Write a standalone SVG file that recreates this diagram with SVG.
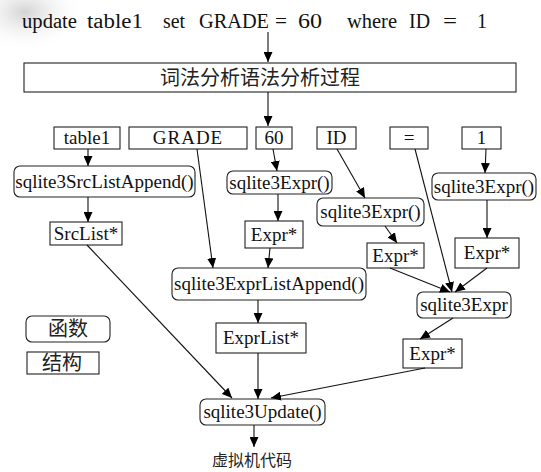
<svg xmlns="http://www.w3.org/2000/svg" width="541" height="472" viewBox="0 0 541 472">
<style>
.bx{fill:#fff;stroke:#222;stroke-width:1.1}
.t{font-family:"Liberation Serif","Times New Roman",serif;font-size:19px;fill:#111;text-anchor:middle}
.tt{font-family:"Liberation Serif","Times New Roman",serif;font-size:20px;fill:#111}
.cj{font-family:"Noto Sans CJK SC","Noto Sans",sans-serif;fill:#222;text-anchor:middle}
.ln{stroke:#111;stroke-width:1.1;fill:none;marker-end:url(#ah)}
</style>
<defs>
<marker id="ah" markerUnits="userSpaceOnUse" markerWidth="10" markerHeight="9" refX="10" refY="4.5" orient="auto">
<path d="M0,0 L10,4.5 L0,9 z" fill="#000"/>
</marker>
<radialGradient id="wm" cx="0.5" cy="0.5" r="0.5">
<stop offset="0" stop-color="#c8c8c8" stop-opacity="0.8"/>
<stop offset="1" stop-color="#ffffff" stop-opacity="0"/>
</radialGradient>
</defs>
<rect width="541" height="472" fill="#fff"/>
<ellipse cx="25" cy="12" rx="60" ry="40" fill="url(#wm)"/>
<g id="title">
<text class="tt" x="22" y="28" textLength="55" lengthAdjust="spacingAndGlyphs">update</text>
<text class="tt" x="87" y="28" textLength="56" lengthAdjust="spacingAndGlyphs">table1</text>
<text class="tt" x="163" y="28" textLength="22" lengthAdjust="spacingAndGlyphs">set</text>
<text class="tt" x="199" y="28" textLength="70" lengthAdjust="spacingAndGlyphs">GRADE</text>
<text class="tt" x="275" y="28" textLength="12" lengthAdjust="spacingAndGlyphs">=</text>
<text class="tt" x="298" y="28" textLength="24" lengthAdjust="spacingAndGlyphs">60</text>
<text class="tt" x="347" y="28" textLength="50" lengthAdjust="spacingAndGlyphs">where</text>
<text class="tt" x="409" y="28" textLength="21" lengthAdjust="spacingAndGlyphs">ID</text>
<text class="tt" x="443" y="28" textLength="14" lengthAdjust="spacingAndGlyphs">=</text>
<text class="tt" x="477" y="28" textLength="10" lengthAdjust="spacingAndGlyphs">1</text>
</g>
<g id="parse"><rect class="bx" x="24" y="63" width="492" height="29"/><text class="cj" x="260" y="85" font-size="20">词法分析语法分析过程</text></g>
<g id="n_table1"><rect class="bx" x="54" y="127" width="66" height="22"/><text class="t" x="87" y="144">table1</text></g>
<g id="n_grade"><rect class="bx" x="129" y="127" width="118" height="22"/><text class="t" x="188" y="144" letter-spacing="1">GRADE</text></g>
<g id="n_60"><rect class="bx" x="256" y="127" width="36" height="22"/><text class="t" x="274" y="144">60</text></g>
<g id="n_id"><rect class="bx" x="317" y="127" width="39" height="22"/><text class="t" x="336.5" y="144">ID</text></g>
<g id="n_eq"><rect class="bx" x="390" y="127" width="38" height="22"/><text class="t" x="409" y="144">=</text></g>
<g id="n_1"><rect class="bx" x="462" y="127" width="39" height="22"/><text class="t" x="481.5" y="144">1</text></g>
<g id="f_srclist"><rect class="bx" x="14" y="166" width="181" height="31" rx="6"/><text class="t" x="104.5" y="188">sqlite3SrcListAppend()</text></g>
<g id="f_expr60"><rect class="bx" x="227" y="171" width="105" height="23" rx="6"/><text class="t" x="279.5" y="189">sqlite3Expr()</text></g>
<g id="f_exprid"><rect class="bx" x="317" y="198" width="107" height="28" rx="6"/><text class="t" x="370.5" y="218">sqlite3Expr()</text></g>
<g id="f_expr1"><rect class="bx" x="432" y="173" width="104" height="27" rx="6"/><text class="t" x="484" y="193">sqlite3Expr()</text></g>
<g id="s_srclist"><rect class="bx" x="50" y="222" width="72" height="23"/><text class="t" x="86" y="240">SrcList*</text></g>
<g id="s_expr60"><rect class="bx" x="245" y="221" width="58" height="27"/><text class="t" x="274" y="241">Expr*</text></g>
<g id="s_exprid"><rect class="bx" x="367" y="243" width="57" height="25"/><text class="t" x="395.5" y="262">Expr*</text></g>
<g id="s_expr1"><rect class="bx" x="455" y="238" width="64" height="30"/><text class="t" x="487" y="259">Expr*</text></g>
<g id="f_exprlist"><rect class="bx" x="172" y="268" width="194" height="32" rx="6"/><text class="t" x="269" y="290">sqlite3ExprListAppend()</text></g>
<g id="f_exprbin"><rect class="bx" x="417" y="292" width="94" height="26" rx="6"/><text class="t" x="464" y="311">sqlite3Expr</text></g>
<g id="s_exprlist"><rect class="bx" x="216" y="323" width="90" height="30"/><text class="t" x="261" y="344">ExprList*</text></g>
<g id="s_exprbin"><rect class="bx" x="403" y="339" width="59" height="29"/><text class="t" x="432.5" y="360">Expr*</text></g>
<g id="f_update"><rect class="bx" x="200" y="399" width="125" height="26" rx="6"/><text class="t" x="262.5" y="418">sqlite3Update()</text></g>
<g id="legend_func"><rect class="bx" x="26" y="316" width="84" height="26" rx="6"/><text class="cj" x="68" y="336" font-size="20">函数</text></g>
<g id="legend_struct"><rect class="bx" x="27" y="352" width="72" height="22"/><text class="cj" x="62" y="370" font-size="20">结构</text></g>
<g id="out"><text class="cj" x="252" y="466" font-size="16">虚拟机代码</text></g>
<g id="connectors">
<line class="ln" x1="268" y1="32" x2="268" y2="62"/>
<line class="ln" x1="268" y1="92" x2="268" y2="126"/>
<line class="ln" x1="88" y1="149" x2="88" y2="166"/>
<line class="ln" x1="88" y1="197" x2="88" y2="222"/>
<line class="ln" x1="87" y1="245" x2="232" y2="398"/>
<line class="ln" x1="197" y1="149" x2="213" y2="268"/>
<line class="ln" x1="273" y1="149" x2="277" y2="171"/>
<line class="ln" x1="278" y1="194" x2="278" y2="221"/>
<line class="ln" x1="270" y1="248" x2="268" y2="268"/>
<line class="ln" x1="337" y1="149" x2="365" y2="198"/>
<line class="ln" x1="385" y1="226" x2="397" y2="243"/>
<line class="ln" x1="415" y1="149" x2="452" y2="292"/>
<line class="ln" x1="486" y1="149" x2="485" y2="173"/>
<line class="ln" x1="487" y1="200" x2="487" y2="238"/>
<line class="ln" x1="487" y1="268" x2="455" y2="292"/>
<line class="ln" x1="390" y1="268" x2="450" y2="292"/>
<line class="ln" x1="453" y1="318" x2="420" y2="339"/>
<line class="ln" x1="258" y1="300" x2="258" y2="323"/>
<line class="ln" x1="258" y1="353" x2="258" y2="399"/>
<line class="ln" x1="425" y1="368" x2="271" y2="398"/>
<line class="ln" x1="254" y1="425" x2="254" y2="447"/>
</g>
</svg>
